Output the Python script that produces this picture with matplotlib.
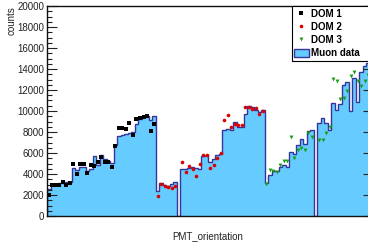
import numpy as np
import matplotlib
matplotlib.use("Agg")
import matplotlib.pyplot as plt
from matplotlib.ticker import MultipleLocator, NullLocator

plt.rcParams['font.family'] = ['Liberation Sans', 'DejaVu Sans']

FILL, EDGE, TXT = "#66ccff", "#35359a", "#222222"

# muon data histogram, one bin per PMT (31 PMTs per DOM)
muon_dom1 = [2540, 3050, 3050, 3110, 3175, 3240, 3270, 4540, 4380, 4680, 4680,
             4320, 4450, 5730, 4880, 5810, 5450, 5250, 5050, 6800, 7580, 7700,
             7820, 7950, 8030, 8730, 9210, 9400, 9560, 9140, 9540]
muon_dom2 = [2350, 3100, 2950, 2900, 3050, 3260, 0, 4500, 4500, 4600, 4650,
             4600, 4430, 5760, 5800, 5170, 5450, 5800, 5950, 8220, 8330, 8200,
             8980, 8510, 8510, 9680, 10450, 10380, 10100, 9940, 10100]
muon_dom3 = [3150, 3900, 4250, 4300, 4700, 4900, 4650, 6050, 5950, 6800, 7300,
             6900, 8100, 8150, 0, 8850, 9300, 8850, 8200, 10750, 10100, 10650,
             12450, 12800, 10000, 13150, 10900, 13700, 14250, 14600, 14800]

# simulated counts per PMT
dom1 = [2000, 2950, 2950, 2950, 3270, 2950, 3170, 4950, 4030, 4950, 4950,
        4130, 4860, 4760, 5170, 5640, 5170, 5100, 4690, 6700, 8420, 8410,
        8280, 8870, 7750, 9240, 9370, 9390, 9550, 8100, 8790]
dom2 = [1900, 3050, 2820, 2790, 2700, 2860, np.nan, 5120, 4170, 4760, 4520,
        3810, 4950, 5810, 5810, 4600, 4810, 5480, 5970, 9110, 9630, 8510,
        8760, 8670, 8670, 10410, 10410, 10160, 10300, 9700, 10030]
dom3 = [3050, 4380, 4290, 4220, 4860, 5270, 5270, 7490, 5520, 6290, 6510,
        6290, 7870, 7560, np.nan, 7200, 7270, 7870, 8440, 13060, 12890, 11120,
        11280, 11940, 13300, 13680, 12880, 12380, 12860, 13430, 13600]

muon = np.array(muon_dom1 + muon_dom2 + muon_dom3, dtype=float)
edges = np.arange(len(muon) + 1)
centers = edges[:-1] + 0.5
n = len(dom1)

fig = plt.figure(figsize=(3.68, 2.44), dpi=100)
ax = fig.add_axes([47/368, 28/244, 326.4/368, 210/244])

h_mu = ax.stairs(muon, edges, fill=True, facecolor=FILL, edgecolor=EDGE, lw=1.0, label="Muon data")
h1, = ax.plot(centers[:n], dom1, "s", ms=2.9, color="k", mew=0, label="DOM 1")
h2, = ax.plot(centers[n:2*n], dom2, "o", ms=2.6, color="#dd0000", mew=0, label="DOM 2")
h3, = ax.plot(centers[2*n:], dom3, "v", ms=2.8, color="#1a9c1a", mew=0, label="DOM 3")

ax.set_xlim(0, len(muon)); ax.set_ylim(0, 20000)
ax.xaxis.set_major_locator(NullLocator())
ax.yaxis.set_major_locator(MultipleLocator(2000))
ax.yaxis.set_minor_locator(MultipleLocator(500))
ax.tick_params(axis="y", which="both", direction="in", right=True, labelsize=7, pad=2,
               labelcolor=TXT, color="#222222", width=0.8)
ax.tick_params(axis="y", which="major", length=7)
ax.tick_params(axis="y", which="minor", length=3.5)
for s in ax.spines.values():
    s.set_linewidth(1.0); s.set_color("#111111")

ax.set_ylabel("counts", fontsize=7, loc="top", color=TXT)
ax.yaxis.set_label_coords(-0.093, 1.0)
ax.set_xlabel("PMT_orientation", fontsize=7, color=TXT)
ax.xaxis.set_label_coords(0.4927, -0.074)

leg = ax.legend([h1, h2, h3, h_mu], ["DOM 1", "DOM 2", "DOM 3", "Muon data"],
                loc="upper left", bbox_to_anchor=(291.7/368, 0, 80/368, 1 - 6/244),
                bbox_transform=fig.transFigure, mode="expand", numpoints=1,
                prop={"weight": "bold", "size": 7}, fancybox=False, framealpha=1,
                edgecolor="k", borderpad=0.28, labelspacing=0.33, handlelength=1.45,
                handleheight=0.9, handletextpad=0.3, borderaxespad=0)
leg.get_frame().set_linewidth(0.8)

fig.savefig("out.png", dpi=100)
